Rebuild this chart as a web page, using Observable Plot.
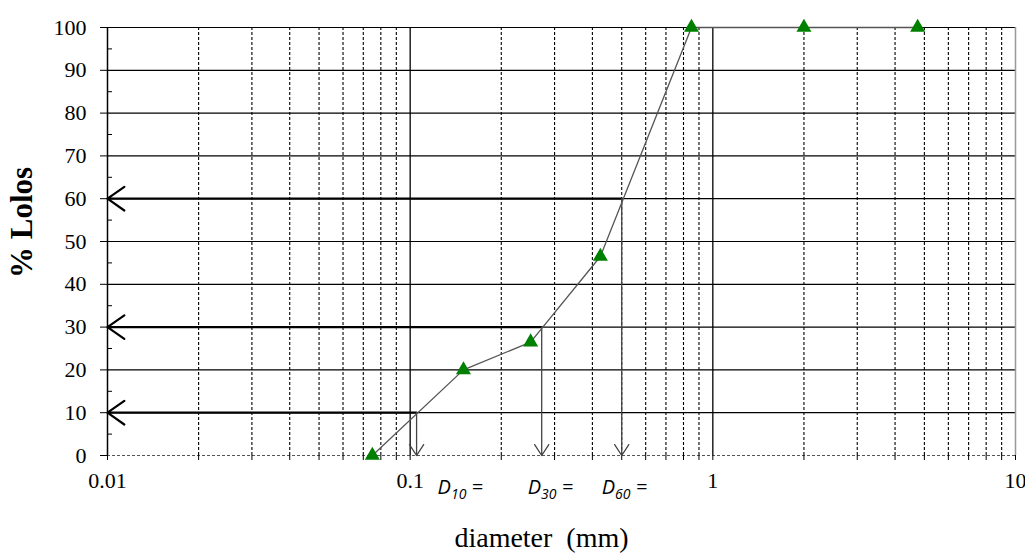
<!DOCTYPE html>
<html>
<head>
<meta charset="utf-8">
<script src="https://cdn.jsdelivr.net/npm/d3@7"></script>
<script src="https://cdn.jsdelivr.net/npm/@observablehq/plot@0.6"></script>
<style>
  html, body { margin: 0; padding: 0; background: white; }
</style>
</head>
<body>
<div id="chart"></div>
<script>
// Sieve analysis data
const sieveDiameters = [0.075, 0.15, 0.25, 0.425, 0.85, 2.0, 4.75];
const percentPassing = [0, 20, 26.5, 46.5, 100, 100, 100];

// Axis ticks
const yTicks = [0, 10, 20, 30, 40, 50, 60, 70, 80, 90, 100];
const yMinorTicks = [5, 15, 25, 35, 45, 55, 65, 75, 85, 95];
const xMajorTicks = [0.01, 0.1, 1, 10];
const xMinorTicks = [0.02, 0.03, 0.04, 0.05, 0.06, 0.07, 0.08, 0.09,
                     0.2, 0.3, 0.4, 0.5, 0.6, 0.7, 0.8, 0.9,
                     2, 3, 4, 5, 6, 7, 8, 9];

// Characteristic diameters
const dLevels = [10, 30, 60];
const dDiameters = [0.105, 0.272, 0.50];
const dNames = ["10", "30", "60"];

const yTitle = "% Lolos";
const xTitle = "diameter\u00a0\u00a0(mm)";

const rows = sieveDiameters.map((d, i) => ({d, p: percentPassing[i]}));
const dIdx = dLevels.map((_, i) => i);

const serif = "'Liberation Serif', 'Times New Roman', serif";

const chart = Plot.plot({
  width: 1025,
  height: 554,
  marginLeft: 107,
  marginRight: 10,
  marginTop: 27,
  marginBottom: 99,
  x: {type: "log", domain: [0.01, 10]},
  y: {domain: [0, 100]},
  style: {fontFamily: serif, background: "white", color: "black", overflow: "visible"},
  marks: [
    // grid
    Plot.ruleX(xMinorTicks, {stroke: "black", strokeDasharray: "3,2", strokeWidth: 1.1}),
    Plot.ruleX(xMajorTicks.filter(d => d > 0.01 && d < 10), {stroke: "black", strokeWidth: 1.3}),
    Plot.ruleY(yTicks.filter(d => d > 0), {stroke: "black", strokeWidth: 1.2}),
    Plot.ruleY([0], {stroke: "#555", strokeDasharray: "3,2", strokeWidth: 1.2}),
    Plot.ruleX([10], {stroke: "#999", strokeWidth: 1.5}),
    Plot.ruleX([0.01], {stroke: "black", strokeWidth: 1.5}),
    // axes
    Plot.axisY({ticks: yTicks, tickSize: 7, tickPadding: 14, fontSize: 22, tickFormat: d => String(d), label: null}),
    Plot.axisY({ticks: yMinorTicks, tickSize: 5, dx: 5, tickFormat: () => "", label: null}),
    Plot.axisX({ticks: [...xMajorTicks, ...xMinorTicks], tickSize: 5, tickFormat: () => "", label: null}),
    Plot.axisX({ticks: xMajorTicks, tickSize: 0, tickPadding: 17, fontSize: 22, tickFormat: d => String(d), label: null}),
    // D arrows
    Plot.arrow(dIdx, {
      x1: i => dDiameters[i], y1: i => dLevels[i],
      x2: () => 0.01, y2: i => dLevels[i],
      bend: 0, headLength: 14, headAngle: 70, stroke: "black", strokeWidth: 2.2
    }),
    Plot.arrow(dIdx, {
      x1: i => dDiameters[i], y1: i => dLevels[i],
      x2: i => dDiameters[i], y2: () => 0,
      bend: 0, headLength: 15, headAngle: 66, stroke: "#444", strokeWidth: 1.3
    }),
    // gradation curve
    Plot.line(rows, {x: "d", y: "p", stroke: "#555", strokeWidth: 1.3}),
    Plot.dot(rows, {x: "d", y: "p", symbol: "triangle", r: 5.6, fill: "#008000", stroke: null}),
    // D labels
    Plot.text([0], {x: () => dDiameters[0], y: () => 0, text: () => "D" + dNames[0] + " =", textAnchor: "start", dx: 21, dy: 32, className: "dlabel"}),
    Plot.text([1], {x: () => dDiameters[1], y: () => 0, text: () => "D" + dNames[1] + " =", textAnchor: "start", dx: -14, dy: 32, className: "dlabel"}),
    Plot.text([2], {x: () => dDiameters[2], y: () => 0, text: () => "D" + dNames[2] + " =", textAnchor: "start", dx: -20, dy: 32, className: "dlabel"}),
    // titles
    Plot.text([yTitle], {frameAnchor: "left", textAnchor: "middle", lineAnchor: "middle", rotate: -90, dx: -85, dy: -19, fontSize: 31, fontWeight: "bold", text: d => d}),
    Plot.text([xTitle], {frameAnchor: "bottom", textAnchor: "middle", lineAnchor: "middle", dx: -20, dy: 83, fontSize: 28, text: d => d})
  ]
});

// render subscripts in D labels
chart.querySelectorAll(".dlabel text").forEach((t, i) => {
  const name = dNames[i];
  t.textContent = "";
  t.setAttribute("font-family", "'Open Sans', 'Liberation Sans', sans-serif");
  t.setAttribute("font-style", "italic");
  t.setAttribute("font-size", "20");
  const ns = "http://www.w3.org/2000/svg";
  const a = document.createElementNS(ns, "tspan"); a.textContent = "D";
  const b = document.createElementNS(ns, "tspan"); b.textContent = name;
  b.setAttribute("font-size", "14"); b.setAttribute("dy", "5");
  const c = document.createElementNS(ns, "tspan"); c.textContent = "\u00a0=";
  c.setAttribute("dy", "-5");
  t.append(a, b, c);
});

document.getElementById("chart").append(chart);
</script>
</body>
</html>
